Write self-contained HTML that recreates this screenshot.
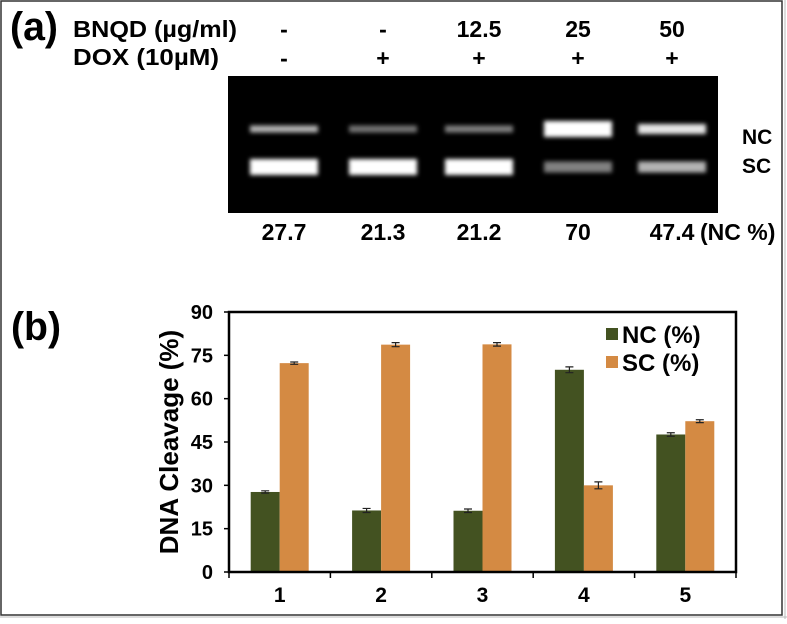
<!DOCTYPE html>
<html><head><meta charset="utf-8"><style>
html,body{margin:0;padding:0;background:#fff;}
body{width:787px;height:619px;overflow:hidden;font-family:"Liberation Sans",Arial,sans-serif;}
text{font-family:"Liberation Sans",Arial,sans-serif;font-weight:bold;}
</style></head><body>
<svg id="fig" width="787" height="619" xmlns="http://www.w3.org/2000/svg">
<defs>
<filter id="blur" x="-20%" y="-100%" width="140%" height="300%"><feGaussianBlur stdDeviation="2.2"/></filter>
</defs>
<rect x="1" y="1" width="781" height="614" fill="none" stroke="#333" stroke-width="1.5"/>
<line x1="785" y1="0" x2="785" y2="619" stroke="#bbb" stroke-width="1"/>
<line x1="0" y1="617" x2="787" y2="617" stroke="#bbb" stroke-width="1"/>
<text x="10" y="40" font-size="40" textLength="48" lengthAdjust="spacingAndGlyphs">(a)</text>
<text x="73" y="37" font-size="23" textLength="164" lengthAdjust="spacingAndGlyphs">BNQD (µg/ml)</text>
<text x="73" y="65" font-size="23" textLength="146" lengthAdjust="spacingAndGlyphs">DOX (10µM)</text>
<g id="lanes"></g>
<rect x="228" y="76" width="490" height="137" fill="#000"/>
<g id="bands" filter="url(#blur)"></g>
<text x="742" y="144" font-size="21">NC</text>
<text x="742" y="173" font-size="21">SC</text>
<g id="ncpct"></g>
<text x="11" y="340" font-size="40" textLength="50" lengthAdjust="spacingAndGlyphs">(b)</text>
<g id="chart"></g>
</svg>
<script>
const NS="http://www.w3.org/2000/svg";
function mk(tag,attrs,parent,txt){const e=document.createElementNS(NS,tag);for(const k in attrs)e.setAttribute(k,attrs[k]);if(txt!==undefined)e.textContent=txt;parent.appendChild(e);return e;}
const laneX=[284,383,479,578,672];
const bnqd=["-","-","12.5","25","50"];
const dox=["-","+","+","+","+"];
const ncPct=["27.7","21.3","21.2","70","47.4"];
const ncBright=[0.7,0.45,0.5,1,0.9];
const scBright=[1,1,1,0.5,0.7];
const lanes=document.getElementById('lanes');
laneX.forEach((x,i)=>{
  let t=mk('text',{x:x,y:37,'font-size':23,'text-anchor':'middle'},lanes,bnqd[i]);
  
  
  t=mk('text',{x:x,y:66,'font-size':23,'text-anchor':'middle'},lanes,dox[i]);
  
  
});
const bands=document.getElementById('bands');
laneX.forEach((x,i)=>{
  const nb=ncBright[i], sb=scBright[i];
  const nh= i===3?16:(i===4?10:7);
  let r=mk('rect',{x:x-34,y:129-nh/2,width:68,height:nh,fill:'#fff','fill-opacity':nb},bands);
  
  
  const sh= i>=3?11:16;
  r=mk('rect',{x:x-34,y:167-sh/2,width:68,height:sh,fill:'#fff','fill-opacity':sb},bands);
  
  
});
const ncp=document.getElementById('ncpct');
laneX.forEach((x,i)=>{
  const t=mk('text',{x:x,y:240,'font-size':23,'text-anchor':'middle'},ncp,ncPct[i]);
  
  
});
const t5=mk('text',{x:700,y:240,'font-size':23,'text-anchor':'start'},ncp,'(NC %)');


</script>
<script>
const categories=["1","2","3","4","5"];
const ncValues=[27.7,21.3,21.2,70,47.6];
const scValues=[72.3,78.7,78.8,30,52.2];
const ncErr=[0.4,0.7,0.6,1.0,0.6];
const scErr=[0.4,0.7,0.6,1.2,0.5];
const yTicks=[0,15,30,45,60,75,90];
const L=229,R=736,T=312,B=572,yMax=90;
const yS=v=>B-(v/yMax)*(B-T);
const bandW=(R-L)/categories.length;
const xC=i=>L+bandW*(i+0.5);
const barW=29;
const g=document.getElementById('chart');
function bar(i,v,e,off,color,name){
  const r=mk('rect',{x:xC(i)+off,y:yS(v),width:barW,height:B-yS(v),fill:color},g);
  
  
  const cx=xC(i)+off+barW/2;
  const eb=mk('path',{d:`M${cx} ${yS(v+e)}V${yS(v-e)}M${cx-4} ${yS(v+e)}H${cx+4}M${cx-4} ${yS(v-e)}H${cx+4}`,stroke:'#222','stroke-width':1.2,fill:'none'},g);
  
  
}
categories.forEach((c,i)=>{
  bar(i,ncValues[i],ncErr[i],-barW,'#435221','nc');
  bar(i,scValues[i],scErr[i],0,'#d48a43','sc');
  const t=mk('text',{x:xC(i),y:602,'font-size':21,'text-anchor':'middle'},g,c);
  
  
});
yTicks.forEach(v=>{
  const t=mk('text',{x:213,y:yS(v)+7,'font-size':20,'text-anchor':'end'},g,String(v));
  
  
  const tk=mk('line',{x1:L-5,y1:yS(v),x2:L,y2:yS(v),stroke:'#000','stroke-width':1.5},g);
  
  
});
for(let i=0;i<=categories.length;i++){
  const x=L+bandW*i;
  const tk=mk('line',{x1:x,y1:B,x2:x,y2:B+6,stroke:'#000','stroke-width':1.5},g);
  
  
}
const frame=mk('rect',{x:L,y:T,width:R-L,height:B-T,fill:'none',stroke:'#000','stroke-width':2.5},g);


const yt=mk('text',{x:0,y:0,'font-size':26,'text-anchor':'middle',transform:`translate(178,${(T+B)/2}) rotate(-90)`},g,'DNA Cleavage (%)');


const lg=[['NC (%)','#435221',334],['SC (%)','#d48a43',362]];
lg.forEach(([lab,col,y],k)=>{
  const s=mk('rect',{x:606,y:y-6,width:12,height:12,fill:col},g);
  
  
  const t=mk('text',{x:622,y:y+9,'font-size':24},g,lab);
  
  
});
</script>
</body></html>
